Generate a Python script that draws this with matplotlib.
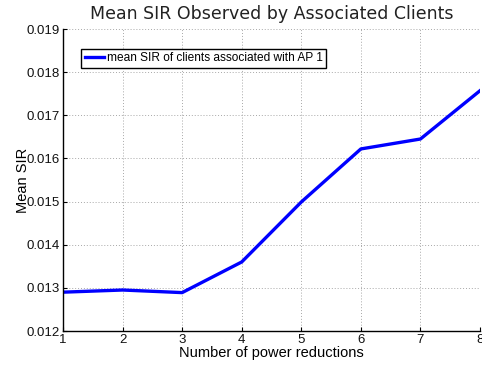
import matplotlib
matplotlib.use('Agg')
import matplotlib.pyplot as plt

power_reductions = [1, 2, 3, 4, 5, 6, 7, 8]
mean_sir_ap1 = [0.01290, 0.01295, 0.01289, 0.01360, 0.01499, 0.01622, 0.01645, 0.01757]
y_ticks = [0.012, 0.013, 0.014, 0.015, 0.016, 0.017, 0.018, 0.019]

plt.rcParams['font.family'] = ['Liberation Sans', 'DejaVu Sans']

fig = plt.figure(figsize=(4.82, 3.66), dpi=100)
ax = fig.add_axes([63/482, 1 - 331/366, 417/482, 302/366])

ax.plot(power_reductions, mean_sir_ap1, color=(0, 0, 1), linewidth=2.4,
        label='mean SIR of clients associated with AP 1')

ax.set_xlim(1, 8)
ax.set_ylim(0.012, 0.019)
ax.set_xticks(power_reductions)
ax.set_yticks(y_ticks)
ax.set_yticklabels([f'{v:.3f}' for v in y_ticks])
ax.grid(True, linestyle=(0, (1, 2)), color='#a8a8a8', linewidth=0.7)
ax.tick_params(direction='in', length=3, labelsize=9.5, pad=2, color='black',
               labelcolor='#111111')
ax.spines['top'].set_visible(False)
ax.spines['right'].set_visible(False)
ax.spines['left'].set_linewidth(1.0)
ax.spines['bottom'].set_linewidth(1.0)

ax.set_title('Mean SIR Observed by Associated Clients', fontsize=12.5,
             family='DejaVu Sans', color='#222222', pad=7)
ax.set_xlabel('Number of power reductions', fontsize=10.5, labelpad=0)
ax.set_ylabel('Mean SIR', fontsize=10.5, labelpad=-2)

leg = ax.legend(loc='upper left', bbox_to_anchor=(0.043, 0.935), fontsize=8.6,
                handlelength=1.6, handletextpad=0.25, borderpad=0.3,
                fancybox=False, framealpha=1, borderaxespad=0)
leg.get_frame().set_edgecolor('black')
leg.get_frame().set_linewidth(1.0)

plt.savefig('out.png', dpi=100)
